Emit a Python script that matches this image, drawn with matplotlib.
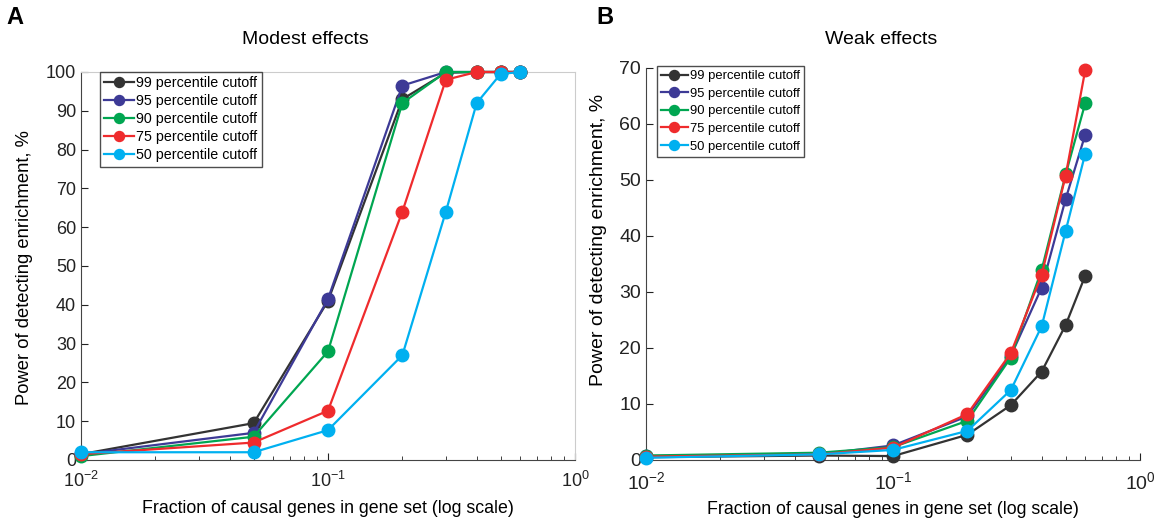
import numpy as np
import matplotlib
matplotlib.use("Agg")
import matplotlib.pyplot as plt

plt.rcParams['font.family'] = ['Liberation Sans', 'DejaVu Sans']
plt.rcParams['mathtext.fontset'] = 'custom'
plt.rcParams['mathtext.rm'] = 'Liberation Sans'
plt.rcParams['mathtext.it'] = 'Liberation Sans:italic'

# Fraction of causal genes in gene set
fraction = [0.01, 0.05, 0.1, 0.2, 0.3, 0.4, 0.5, 0.6]

labels = ["99 percentile cutoff", "95 percentile cutoff", "90 percentile cutoff",
          "75 percentile cutoff", "50 percentile cutoff"]
colors = ["#333333", "#3d3a96", "#00a651", "#ef2b2d", "#00b0f0"]

# Panel A: modest effects (power, %)
modest_99 = [1.5, 9.5, 41.0, 93.0, 99.8, 100, 100, 100]
modest_95 = [1.5, 7.0, 41.5, 96.5, 100, 100, 100, 100]
modest_90 = [1.0, 6.0, 28.0, 92.0, 100, 100, 100, 100]
modest_75 = [1.5, 4.5, 12.7, 64.0, 98.0, 100, 100, 100]
modest_50 = [2.0, 2.0, 7.7, 27.0, 64.0, 92.0, 99.5, 100]

# Panel B: weak effects (power, %)
weak_99 = [0.5, 0.8, 0.7, 4.5, 9.8, 15.8, 24.1, 32.9]
weak_95 = [0.7, 1.0, 2.6, 7.8, 18.6, 30.8, 46.6, 58.1]
weak_90 = [0.8, 1.3, 2.3, 7.0, 18.3, 34.0, 51.0, 63.7]
weak_75 = [0.6, 1.0, 2.2, 8.2, 19.1, 33.1, 50.8, 69.6]
weak_50 = [0.4, 1.0, 1.8, 5.2, 12.5, 23.9, 40.9, 54.7]

W, H = 1164, 519
fig = plt.figure(figsize=(W / 100, H / 100), dpi=100)
axA = fig.add_axes([81/W, 59/H, 494/W, 388/H])
axB = fig.add_axes([646/W, 59/H, 494/W, 392/H])


def draw_panel(ax, series, ymax, light_box, tick_fs, ylab_fs, ylab_xy,
               leg_fs, leg_space, leg_anchor):
    for vals, col, lab in zip(series, colors, labels):
        ax.plot(fraction, vals, '-o', color=col, lw=1.6, ms=9, label=lab,
                markeredgecolor=col, clip_on=False, zorder=3)
    ax.set_xscale('log')
    ax.set_xlim(0.01, 1)
    ax.set_ylim(0, ymax)
    ax.set_yticks(np.arange(0, ymax + 1, 10))
    ax.tick_params(direction='in', which='both', labelsize=tick_fs,
                   colors='#222222', length=5)
    ax.tick_params(which='minor', length=3)
    ax.tick_params(axis='x', pad=8)
    for s in ['left', 'bottom']:
        ax.spines[s].set_color('#444444')
    if light_box:
        for s in ['top', 'right']:
            ax.spines[s].set_color('#cccccc')
    else:
        ax.spines['top'].set_visible(False)
        ax.spines['right'].set_visible(False)
    ax.set_xlabel("Fraction of causal genes in gene set (log scale)", fontsize=12.8,
                  labelpad=6)
    ax.set_ylabel("Power of detecting enrichment, %", fontsize=ylab_fs)
    ax.yaxis.set_label_coords(*ylab_xy)
    leg = ax.legend(loc='upper left', bbox_to_anchor=leg_anchor, fontsize=leg_fs,
                    frameon=True, fancybox=False, handlelength=2.1,
                    handletextpad=0.15, borderpad=0.3, labelspacing=leg_space,
                    borderaxespad=0.0, markerscale=0.8)
    leg.get_frame().set_edgecolor('#222222')
    leg.get_frame().set_linewidth(1.0)
    leg.set_zorder(5)


draw_panel(axA, [modest_99, modest_95, modest_90, modest_75, modest_50], 100,
           True, 13, 13.2, (-0.097, 0.497), 10.3, 0.28, (0.0385, 1.0))
draw_panel(axB, [weak_99, weak_95, weak_90, weak_75, weak_50], 70,
           False, 14, 14, (-0.079, 0.561), 9.4, 0.42, (0.022, 1.005))

fig.text(305/W, 1 - 40/H, "Modest effects", fontsize=14, ha='center', va='center')
fig.text(881/W, 1 - 40/H, "Weak effects", fontsize=14, ha='center', va='center')
fig.text(6/W, 1 - 18/H, "A", fontsize=17, fontweight='bold', va='center')
fig.text(596/W, 1 - 18/H, "B", fontsize=17, fontweight='bold', va='center')

fig.savefig("out.png", dpi=100)
